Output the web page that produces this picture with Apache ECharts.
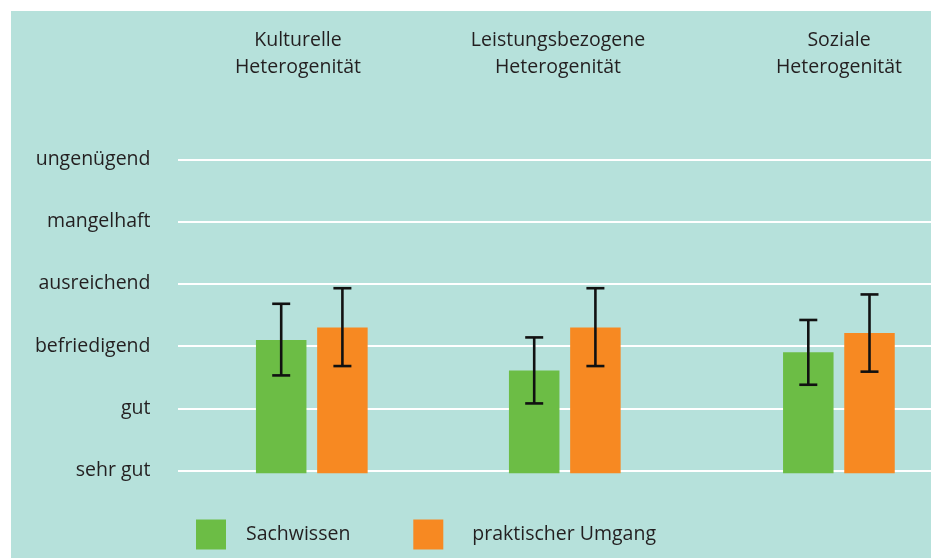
<!DOCTYPE html>
<html>
<head>
<meta charset="utf-8">
<script src="https://cdn.jsdelivr.net/npm/echarts@6/dist/echarts.min.js"></script>
<style>
  html, body { margin: 0; padding: 0; background: #ffffff; }
  #bg { position: absolute; left: 11px; top: 11px; width: 920px; height: 547px; background: #b6e1db; }
  #chart { position: absolute; left: 0; top: 0; width: 937px; height: 558px; }
</style>
</head>
<body>
<div id="bg"></div>
<div id="chart"></div>
<script>
// ---- data ----
const categories = ['Kulturelle\nHeterogenität', 'Leistungsbezogene\nHeterogenität', 'Soziale\nHeterogenität'];
const gradeLabels = ['sehr gut', 'gut', 'befriedigend', 'ausreichend', 'mangelhaft', 'ungenügend']; // grades 1..6
const seriesNames = ['Sachwissen', 'praktischer Umgang'];
const sachwissen = [3.10, 2.61, 2.90];
const sachwissenLow = [2.53, 2.08, 2.38];
const sachwissenHigh = [3.68, 3.14, 3.42];
const umgang = [3.30, 3.30, 3.21];
const umgangLow = [2.68, 2.68, 2.59];
const umgangHigh = [3.93, 3.93, 3.83];

// ---- layout ----
const FONT = 'Open Sans';
const TEXT = '#231f20';
const GREEN = '#6cbd45';
const ORANGE = '#f78922';
const catCenters = [311.8, 564.8, 840.8];
const titleCenters = [298, 558, 839];
const BAR_W = 50.5, BAR_GAP = 10.7;
const OFF = (BAR_W + BAR_GAP) / 2;

function errRender(offset) {
  return function (params, api) {
    const lo = api.coord([api.value(0), api.value(1)]);
    const hi = api.coord([api.value(0), api.value(2)]);
    const x = lo[0] + offset;
    const st = { stroke: '#111111', lineWidth: 2.6 };
    return {
      type: 'group',
      children: [
        { type: 'line', shape: { x1: x, y1: hi[1], x2: x, y2: lo[1] }, style: st },
        { type: 'line', shape: { x1: x - 9, y1: hi[1], x2: x + 9, y2: hi[1] }, style: st },
        { type: 'line', shape: { x1: x - 9, y1: lo[1], x2: x + 9, y2: lo[1] }, style: st }
      ]
    };
  };
}

const grid = [{ left: 178, right: 6, top: 159.3, bottom: 87.3 }];
const xAxis = [{ type: 'category', gridIndex: 0, data: [''], show: false }];
const yAxis = [{
  type: 'value', gridIndex: 0, min: 1, max: 6, interval: 1,
  axisLine: { show: false }, axisTick: { show: false },
  axisLabel: {
    margin: 27.5, color: TEXT, fontFamily: FONT, fontSize: 19.5,
    formatter: v => gradeLabels[Math.round(v) - 1] || ''
  },
  splitLine: { show: true, lineStyle: { color: '#ffffff', width: 2 } }
}];
const series = [];
const graphic = [];

categories.forEach((cat, i) => {
  const gi = i + 1;
  grid.push({ left: catCenters[i] - 100, width: 200, top: 159.3, bottom: 84.7 });
  xAxis.push({ type: 'category', gridIndex: gi, data: [cat], show: false });
  yAxis.push({ type: 'value', gridIndex: gi, min: 0.958, max: 6, show: false, splitLine: { show: false } });
  series.push({
    name: seriesNames[0], type: 'bar', xAxisIndex: gi, yAxisIndex: gi,
    data: [sachwissen[i]], barWidth: BAR_W, barGap: (BAR_GAP / BAR_W * 100) + '%',
    itemStyle: { color: GREEN }, silent: true
  });
  series.push({
    name: seriesNames[1], type: 'bar', xAxisIndex: gi, yAxisIndex: gi,
    data: [umgang[i]], barWidth: BAR_W,
    itemStyle: { color: ORANGE }, silent: true
  });
  series.push({
    type: 'custom', xAxisIndex: gi, yAxisIndex: gi, z: 5,
    data: [[0, sachwissenLow[i], sachwissenHigh[i]]],
    renderItem: errRender(-OFF), silent: true
  });
  series.push({
    type: 'custom', xAxisIndex: gi, yAxisIndex: gi, z: 5,
    data: [[0, umgangLow[i], umgangHigh[i]]],
    renderItem: errRender(OFF), silent: true
  });
  graphic.push({
    type: 'text', x: titleCenters[i], y: 27.5, silent: true,
    style: {
      text: cat, align: 'center', verticalAlign: 'top', lineHeight: 26.7,
      fill: TEXT, fontFamily: FONT, fontSize: 19.5
    }
  });
});

const chart = echarts.init(document.getElementById('chart'), null, { renderer: 'canvas' });
chart.setOption({
  backgroundColor: 'transparent',
  animation: false,
  grid, xAxis, yAxis, series, graphic,
  legend: [
    {
      data: [seriesNames[0]], left: 196, top: 519.5, padding: 0,
      itemWidth: 30, itemHeight: 30, icon: 'rect', selectedMode: false,
      textStyle: { color: TEXT, fontFamily: FONT, fontSize: 19.5, padding: [0, 0, 0, 15] }
    },
    {
      data: [seriesNames[1]], left: 413.3, top: 519.5, padding: 0,
      itemWidth: 30, itemHeight: 30, icon: 'rect', selectedMode: false,
      textStyle: { color: TEXT, fontFamily: FONT, fontSize: 19.5, padding: [0, 0, 0, 24] }
    }
  ]
});
</script>
</body>
</html>
